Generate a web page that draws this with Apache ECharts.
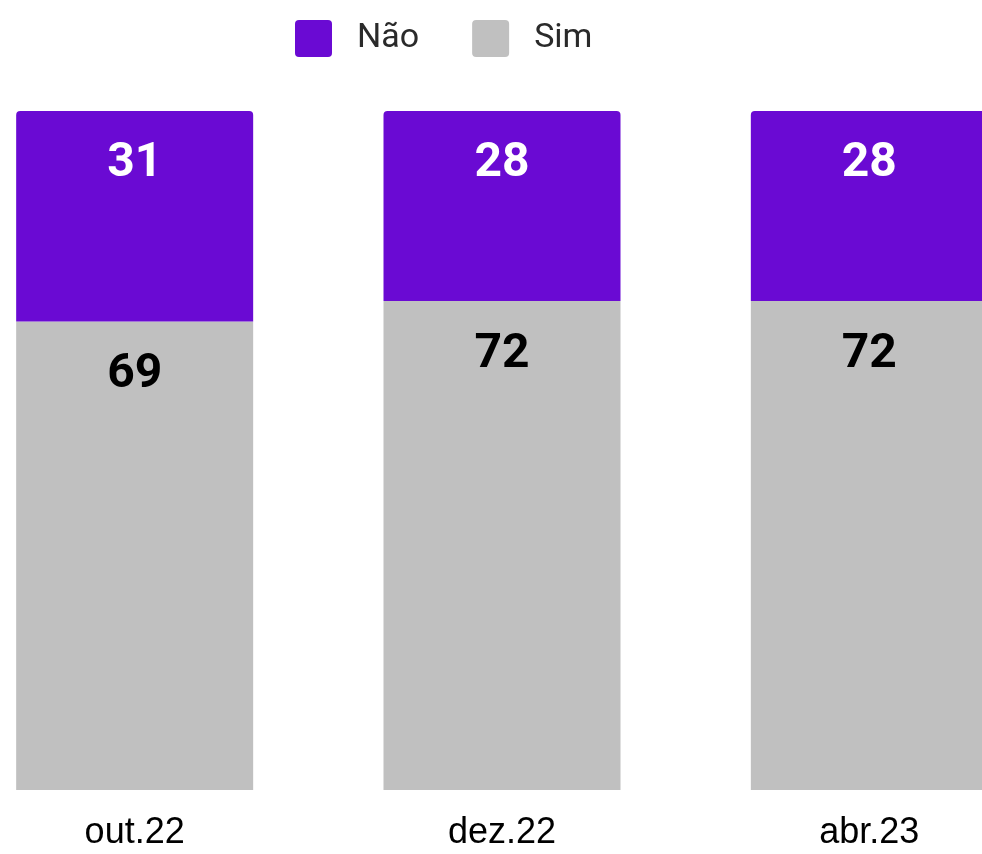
<!DOCTYPE html>
<html>
<head>
<meta charset="utf-8">
<script src="https://cdn.jsdelivr.net/npm/echarts@6/dist/echarts.min.js"></script>
<style>
html,body{margin:0;padding:0;background:#fff;overflow:hidden;width:982px;height:854px;}
/* the original is cropped: the third bar runs past the right edge */
#chart{position:absolute;left:-49px;top:0;width:1102px;height:854px;}
</style>
</head>
<body>
<div id="chart"></div>
<script>
var periodos = ['out.22', 'dez.22', 'abr.23'];
var sim = [69, 72, 72];
var nao = [31, 28, 28];

var chart = echarts.init(document.getElementById('chart'));
chart.setOption({
  animation: false,
  legend: {
    data: ['Não', 'Sim'],
    top: 15,
    left: 339,
    icon: 'path://M4,0H33Q37,0,37,4V33Q37,37,33,37H4Q0,37,0,33V4Q0,0,4,0Z',
    itemWidth: 37,
    itemHeight: 37,
    itemGap: 53,
    textStyle: {
      fontFamily: 'Roboto',
      fontSize: 34,
      color: '#2a2a2a',
      padding: [0, 0, 0, 20]
    }
  },
  grid: {
    left: 0,
    right: 0,
    top: 111,
    height: 679
  },
  xAxis: {
    type: 'category',
    data: periodos,
    axisLine: {show: false},
    axisTick: {show: false},
    axisLabel: {
      margin: 25,
      fontFamily: 'Liberation Sans',
      fontSize: 36,
      color: '#000'
    }
  },
  yAxis: {
    type: 'value',
    min: 0,
    max: 100,
    show: false,
    splitLine: {show: false}
  },
  series: [
    {
      name: 'Sim',
      type: 'bar',
      stack: 'total',
      barWidth: 237,
      data: sim,
      itemStyle: {color: '#c0c0c0'},
      label: {
        show: true,
        position: 'insideTop',
        distance: 30,
        fontFamily: 'Roboto',
        fontWeight: 'bold',
        fontSize: 48,
        color: '#000'
      }
    },
    {
      name: 'Não',
      type: 'bar',
      stack: 'total',
      barWidth: 237,
      data: nao,
      itemStyle: {color: '#6a0ad3', borderRadius: [4, 4, 0, 0]},
      label: {
        show: true,
        position: 'insideTop',
        distance: 29,
        fontFamily: 'Roboto',
        fontWeight: 'bold',
        fontSize: 48,
        color: '#fff'
      }
    }
  ]
});
</script>
</body>
</html>
